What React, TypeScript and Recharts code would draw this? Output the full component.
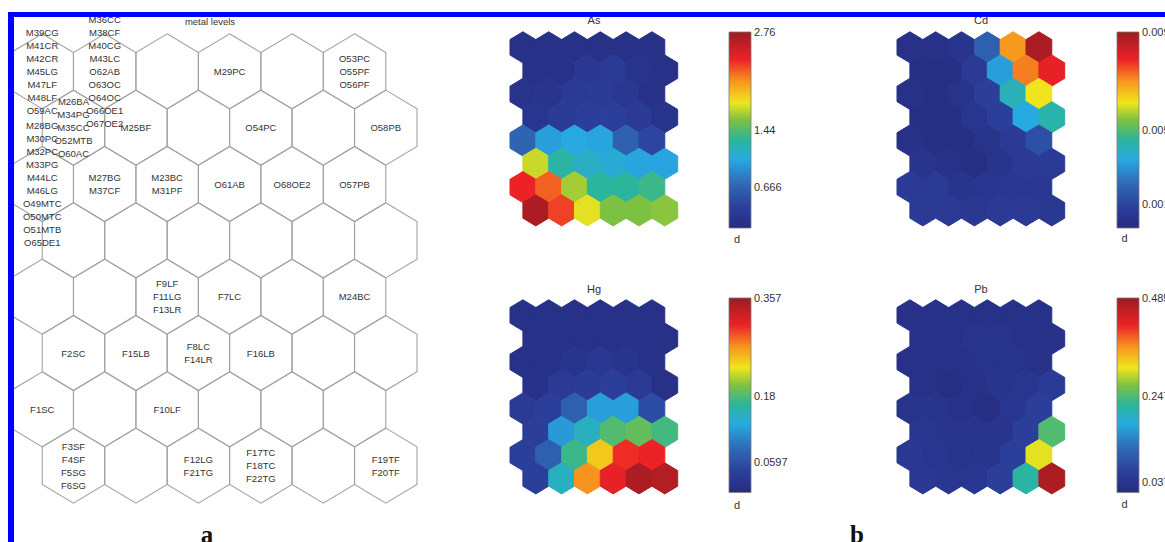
import { ScatterChart, Scatter, XAxis, YAxis, BarChart, Bar } from "recharts";

// page offset of the framed area (body margin + blue frame)
const OX = 14;
const OY = 17;
const FONT = "'Liberation Sans', Arial, Helvetica, sans-serif";

// labels on the SOM map, row by row (odd rows are shifted half a cell to the right)
const mapLabels: string[][][] = [
  [
    ["M39CG", "M41CR", "M42CR", "M45LG", "M47LF", "M48LF", "O59AC"],
    ["M36CC", "M38CF", "M40CG", "M43LC", "O62AB", "O63OC", "O64OC", "O66OE1", "O67OE2"],
    [],
    ["M29PC"],
    [],
    ["O53PC", "O55PF", "O56PF"],
  ],
  [["M26BA", "M34PG", "M35CC", "O52MTB", "O60AC"], ["M25BF"], [], ["O54PC"], [], ["O58PB"]],
  [
    ["M28BG", "M30PC", "M32PC", "M33PG", "M44LC", "M46LG", "O49MTC", "O50MTC", "O51MTB", "O65DE1"],
    ["M27BG", "M37CF"],
    ["M23BC", "M31PF"],
    ["O61AB"],
    ["O68OE2"],
    ["O57PB"],
  ],
  [[], [], [], [], [], []],
  [[], [], ["F9LF", "F11LG", "F13LR"], ["F7LC"], [], ["M24BC"]],
  [["F2SC"], ["F15LB"], ["F8LC", "F14LR"], ["F16LB"], [], []],
  [["F1SC"], [], ["F10LF"], [], [], []],
  [["F3SF", "F4SF", "F5SG", "F6SG"], [], ["F12LG", "F21TG"], ["F17TC", "F18TC", "F22TG"], [], ["F19TF", "F20TF"]],
];

// component planes, colour level 0..1 along the colour bar
const asLevels = [
  [0.03, 0.03, 0.03, 0.03, 0.03, 0.03],
  [0.03, 0.03, 0.07, 0.08, 0.04, 0.03],
  [0.04, 0.05, 0.08, 0.09, 0.07, 0.03],
  [0.06, 0.09, 0.1, 0.1, 0.08, 0.04],
  [0.21, 0.33, 0.35, 0.34, 0.2, 0.12],
  [0.61, 0.44, 0.39, 0.37, 0.34, 0.34],
  [0.86, 0.8, 0.58, 0.45, 0.45, 0.47],
  [0.97, 0.83, 0.63, 0.55, 0.55, 0.56],
];
const cdLevels = [
  [0.03, 0.03, 0.05, 0.2, 0.74, 0.97],
  [0.02, 0.02, 0.08, 0.33, 0.77, 0.87],
  [0.03, 0.02, 0.04, 0.1, 0.41, 0.64],
  [0.02, 0.02, 0.06, 0.1, 0.35, 0.43],
  [0.03, 0.02, 0.02, 0.04, 0.08, 0.15],
  [0.05, 0.03, 0.02, 0.05, 0.08, 0.08],
  [0.08, 0.08, 0.05, 0.06, 0.07, 0.07],
  [0.08, 0.08, 0.07, 0.08, 0.08, 0.07],
];
const hgLevels = [
  [0.03, 0.03, 0.03, 0.03, 0.03, 0.03],
  [0.03, 0.03, 0.03, 0.03, 0.03, 0.03],
  [0.03, 0.03, 0.05, 0.07, 0.05, 0.03],
  [0.03, 0.08, 0.09, 0.1, 0.08, 0.03],
  [0.08, 0.1, 0.2, 0.33, 0.33, 0.14],
  [0.1, 0.32, 0.4, 0.5, 0.52, 0.48],
  [0.1, 0.2, 0.47, 0.68, 0.85, 0.86],
  [0.1, 0.4, 0.75, 0.87, 0.97, 0.96],
];
const pbLevels = [
  [0.03, 0.03, 0.03, 0.03, 0.03, 0.03],
  [0.03, 0.03, 0.04, 0.04, 0.03, 0.03],
  [0.03, 0.03, 0.03, 0.04, 0.04, 0.03],
  [0.03, 0.02, 0.03, 0.05, 0.06, 0.08],
  [0.04, 0.05, 0.03, 0.02, 0.06, 0.1],
  [0.06, 0.05, 0.05, 0.05, 0.1, 0.5],
  [0.07, 0.06, 0.04, 0.05, 0.1, 0.63],
  [0.07, 0.06, 0.06, 0.1, 0.44, 0.97],
];

// colour bar ticks (position along bar 0..1) and their labels
const asTicks = [0.209, 0.498, 1];
const asTickLabels = ["0.666", "1.44", "2.76"];
const cdTicks = [0.121, 0.5, 1];
const cdTickLabels = ["0.001", "0.005", "0.009"];
const hgTicks = [0.156, 0.494, 1];
const hgTickLabels = ["0.0597", "0.18", "0.357"];
const pbTicks = [0.051, 0.494, 1];
const pbTickLabels = ["0.037", "0.247", "0.485"];

const cmapStops = [0, 0.1, 0.22, 0.35, 0.45, 0.55, 0.64, 0.75, 0.86, 1];
const cmapColors = ["#262b80", "#2b3e9a", "#2f67b4", "#27a9e1", "#2bb59c", "#7cc142", "#f0e51d", "#f7941e", "#ec2227", "#9b1c22"];

function hexToRgb(h: string) {
  return [parseInt(h.slice(1, 3), 16), parseInt(h.slice(3, 5), 16), parseInt(h.slice(5, 7), 16)];
}

function colorAt(t: number) {
  const v = Math.max(0, Math.min(1, t));
  let i = 0;
  while (i < cmapStops.length - 2 && v > cmapStops[i + 1]) i++;
  const f = (v - cmapStops[i]) / (cmapStops[i + 1] - cmapStops[i]);
  const a = hexToRgb(cmapColors[i]);
  const b = hexToRgb(cmapColors[i + 1]);
  const c = a.map((x, k) => Math.round(x + (b[k] - x) * f));
  return `rgb(${c[0]},${c[1]},${c[2]})`;
}

function hexPath(cx: number, cy: number, hw: number, hh: number) {
  return `M${cx},${cy - hh} L${cx + hw},${cy - hh / 2} L${cx + hw},${cy + hh / 2} L${cx},${cy + hh} L${cx - hw},${cy + hh / 2} L${cx - hw},${cy - hh / 2} Z`;
}

const noMargin = { top: 0, right: 0, bottom: 0, left: 0 };

function HexMap() {
  const W = 406;
  const H = 507;
  const ux = W / 6.5;
  const uy = H / 9;
  const cells = mapLabels.flatMap((row, r) => row.map((labels, c) => ({ x: c + (r % 2 ? 0.5 : 0), y: r, labels })));
  const labelled = cells.filter((d) => d.labels.length > 0);
  return (
    <div style={{ position: "absolute", left: 10.75 - OX, top: 14.7 - OY }}>
      <ScatterChart width={W} height={H} margin={noMargin}>
        <XAxis type="number" dataKey="x" domain={[-0.5, 6]} hide />
        <YAxis type="number" dataKey="y" domain={[-1, 8]} reversed hide />
        <Scatter
          data={cells}
          isAnimationActive={false}
          shape={(p: any) => <path d={hexPath(p.cx, p.cy, ux / 2, uy / 1.5)} fill="none" stroke="#a2a2a2" strokeWidth={1.1} />}
        />
        <Scatter
          data={labelled}
          isAnimationActive={false}
          shape={(p: any) => {
            const labels: string[] = p.payload.labels;
            const n = labels.length;
            return (
              <g>
                {labels.map((t, i) => (
                  <text
                    key={t}
                    x={p.cx}
                    y={p.cy + (i - (n - 1) / 2) * 13}
                    textAnchor="middle"
                    dominantBaseline="central"
                    fontFamily={FONT}
                    fontSize={9.5}
                    fill="#333"
                  >
                    {t}
                  </text>
                ))}
              </g>
            );
          }}
        />
      </ScatterChart>
    </div>
  );
}

function Plane({ levels, left, top }: { levels: number[][]; left: number; top: number }) {
  const W = 167.7;
  const H = 209.7;
  const ux = W / 6.5;
  const uy = H / 9;
  const cells = levels.flatMap((row, r) => row.map((v, c) => ({ x: c + (r % 2 ? 0.5 : 0), y: r, v })));
  return (
    <div style={{ position: "absolute", left: left - OX, top: top - OY }}>
      <ScatterChart width={W} height={H} margin={noMargin}>
        <XAxis type="number" dataKey="x" domain={[-0.5, 6]} hide />
        <YAxis type="number" dataKey="y" domain={[-1, 8]} reversed hide />
        <Scatter
          data={cells}
          isAnimationActive={false}
          shape={(p: any) => {
            const col = colorAt(p.payload.v);
            return <path d={hexPath(p.cx, p.cy, ux / 2, uy / 1.5)} fill={col} stroke={col} strokeWidth={1} strokeLinejoin="round" />;
          }}
        />
      </ScatterChart>
    </div>
  );
}

function ColorBar({ id, ticks, labels, left, top, height }: { id: string; ticks: number[]; labels: string[]; left: number; top: number; height: number }) {
  const pad = 8;
  return (
    <div style={{ position: "absolute", left: left - OX, top: top - pad - OY }}>
      <BarChart width={22 + 50} height={height + 2 * pad} data={[{ k: "d", v: 1 }]} margin={{ top: pad, right: 0, bottom: pad, left: 0 }} barCategoryGap={0}>
        <defs>
          <linearGradient id={id} x1="0" y1="1" x2="0" y2="0">
            {cmapStops.map((s, i) => (
              <stop key={i} offset={s} stopColor={cmapColors[i]} />
            ))}
          </linearGradient>
        </defs>
        <XAxis dataKey="k" hide />
        <YAxis
          type="number"
          orientation="right"
          width={50}
          domain={[0, 1]}
          ticks={ticks}
          interval={0}
          tickSize={0}
          tickMargin={3}
          axisLine={false}
          tickLine={false}
          tick={{ fontSize: 11, fill: "#333", fontFamily: FONT }}
          tickFormatter={(v: number) => labels[ticks.indexOf(v)]}
        />
        <Bar dataKey="v" fill={`url(#${id})`} stroke="#7a7a7a" strokeWidth={0.8} isAnimationActive={false} />
      </BarChart>
    </div>
  );
}

export default function App() {
  const txt = { fontFamily: FONT, fill: "#333" };
  const serif = "'Liberation Serif', 'DejaVu Serif', serif";
  return (
    <div
      style={{
        position: "fixed",
        left: 8,
        top: 12,
        width: 1157,
        height: 530,
        boxSizing: "border-box",
        borderTop: "5px solid #0000ff",
        borderLeft: "6px solid #0000ff",
        background: "#fff",
        overflow: "hidden",
      }}
    >
      <style>{`.recharts-surface{overflow:visible}`}</style>
      <HexMap />
      <Plane levels={asLevels} left={510} top={23.9} />
      <Plane levels={cdLevels} left={897} top={23.9} />
      <Plane levels={hgLevels} left={510} top={291.5} />
      <Plane levels={pbLevels} left={897} top={291.5} />
      <ColorBar id="cb-as" ticks={asTicks} labels={asTickLabels} left={729} top={31.7} height={196} />
      <ColorBar id="cb-cd" ticks={cdTicks} labels={cdTickLabels} left={1116.7} top={31.7} height={196} />
      <ColorBar id="cb-hg" ticks={hgTicks} labels={hgTickLabels} left={729} top={298.3} height={194.4} />
      <ColorBar id="cb-pb" ticks={pbTicks} labels={pbTickLabels} left={1116.7} top={298.3} height={194.4} />
      <svg width={1151} height={525} style={{ position: "absolute", left: 0, top: 0, pointerEvents: "none" }}>
        <g transform={`translate(${-OX},${-OY})`}>
          <text x={210} y={25} textAnchor="middle" fontSize={9.5} {...txt}>metal levels</text>
          <text x={594} y={24} textAnchor="middle" fontSize={11} {...txt}>As</text>
          <text x={981} y={24} textAnchor="middle" fontSize={11} {...txt}>Cd</text>
          <text x={594} y={293} textAnchor="middle" fontSize={11} {...txt}>Hg</text>
          <text x={981} y={293} textAnchor="middle" fontSize={11} {...txt}>Pb</text>
          <text x={737} y={243} textAnchor="middle" fontSize={11} {...txt}>d</text>
          <text x={1124.5} y={242} textAnchor="middle" fontSize={11} {...txt}>d</text>
          <text x={737} y={509} textAnchor="middle" fontSize={11} {...txt}>d</text>
          <text x={1124.5} y={508} textAnchor="middle" fontSize={11} {...txt}>d</text>
          <text x={207} y={543} textAnchor="middle" fontSize={25} fontWeight="bold" fontFamily={serif} fill="#111">a</text>
          <text x={857} y={543} textAnchor="middle" fontSize={25} fontWeight="bold" fontFamily={serif} fill="#111">b</text>
        </g>
      </svg>
    </div>
  );
}
